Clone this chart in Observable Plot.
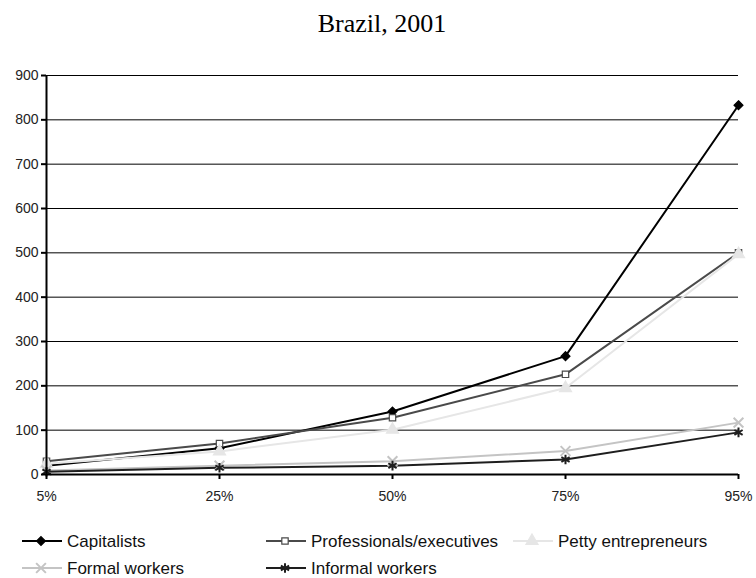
<!DOCTYPE html>
<html>
<head>
<meta charset="utf-8">
<script src="https://cdn.jsdelivr.net/npm/d3@7"></script>
<script src="https://cdn.jsdelivr.net/npm/@observablehq/plot@0.6"></script>
<style>
  html, body { margin: 0; padding: 0; background: #fff; }
  #wrap { width: 756px; height: 578px; position: relative; overflow: hidden; }
  #title { position: absolute; left: 0; top: 0; width: 756px; height: 50px; text-align: center;
           font-family: "Liberation Serif", "Times New Roman", serif; font-size: 26px; line-height: 48px;
           padding-left: 8px; box-sizing: border-box; color: #000; }
  #chart { position: absolute; left: 0; top: 50px; }
  #legend { position: absolute; left: 0; top: 514px; }
</style>
</head>
<body>
<div id="wrap">
  <div id="title">Brazil, 2001</div>
  <div id="chart"></div>
  <div id="legend"></div>
</div>
<script>
const percentiles = ["5%", "25%", "50%", "75%", "95%"];
const seriesNames = ["Capitalists", "Professionals/executives", "Petty entrepreneurs", "Formal workers", "Informal workers"];
const capitalists   = [20, 59, 142, 267, 833];
const professionals = [30, 70, 128, 226, 500];
const petty         = [24, 52, 101, 195, 497];
const formal        = [9, 20, 30, 53, 117];
const informal      = [6, 15, 20, 34, 95];
const yTicks = [0, 100, 200, 300, 400, 500, 600, 700, 800, 900];

const seriesValues = [capitalists, professionals, petty, formal, informal];
const styles = [
  {stroke: "#000000", symbol: "diamond2", fill: "#000000", mstroke: "#000000", r: 4},
  {stroke: "#4a4a4a", symbol: "square", fill: "#ffffff", mstroke: "#4a4a4a", r: 3.6},
  {stroke: "#e6e6e6", symbol: "triangle", fill: "#e6e6e6", mstroke: "#e6e6e6", r: 4.5},
  {stroke: "#c4c4c4", symbol: "times", fill: "none", mstroke: "#c4c4c4", r: 4.5},
  {stroke: "#1e1e1e", symbol: "asterisk", fill: "none", mstroke: "#1e1e1e", r: 4.5}
];

const rows = [];
seriesNames.forEach((name, i) => {
  percentiles.forEach((p, j) => rows.push({series: name, idx: i, pct: p, value: seriesValues[i][j]}));
});

const marks = [
  Plot.ruleY(yTicks.filter(d => d > 0), {stroke: "#000", strokeWidth: 1}),
];
seriesNames.forEach((name, i) => {
  const data = rows.filter(d => d.idx === i);
  marks.push(Plot.line(data, {x: "pct", y: "value", stroke: styles[i].stroke, strokeWidth: 2}));
});
seriesNames.forEach((name, i) => {
  const data = rows.filter(d => d.idx === i);
  const s = styles[i];
  marks.push(Plot.dot(data, {x: "pct", y: "value", symbol: () => s.symbol, r: s.r,
    fill: s.fill, stroke: s.mstroke, strokeWidth: s.symbol === "times" || s.symbol === "asterisk" ? 2 : 1.2}));
});
marks.push(Plot.ruleX([percentiles[0]], {stroke: "#000", strokeWidth: 2}));
marks.push(Plot.ruleY([0], {stroke: "#000", strokeWidth: 2}));
marks.push(Plot.axisY({ticks: yTicks, tickSize: 5, tickPadding: 3, stroke: "#000", strokeWidth: 2, fill: "#222", fontSize: 14, label: null}));
marks.push(Plot.axisX({tickSize: 5, tickPadding: 12, stroke: "#000", strokeWidth: 2, fill: "#222", fontSize: 14, label: null}));

const chart = Plot.plot({
  width: 756,
  height: 464,
  marginTop: 25,
  marginBottom: 40,
  marginLeft: 46,
  marginRight: 18,
  style: {fontFamily: "'Liberation Sans', Arial, sans-serif", fontSize: "14px", background: "#fff", overflow: "visible"},
  x: {type: "point", domain: percentiles, padding: 0},
  y: {domain: [0, 900]},
  marks
});
document.getElementById("chart").appendChild(chart);

// Legend
const legendPos = [[22, 27], [266, 27], [513, 27], [22, 54], [266, 54]];
const svg = d3.select("#legend").append("svg").attr("width", 756).attr("height", 64);
const symMap = {diamond2: d3.symbolDiamond2, square: d3.symbolSquare, triangle: d3.symbolTriangle, times: d3.symbolTimes, asterisk: d3.symbolAsterisk};
seriesNames.forEach((name, i) => {
  const [x, y] = legendPos[i];
  const s = styles[i];
  const g = svg.append("g").attr("transform", `translate(${x},${y})`);
  g.append("line").attr("x1", 0).attr("x2", 40).attr("y1", 0).attr("y2", 0)
    .attr("stroke", s.stroke).attr("stroke-width", 2);
  g.append("path").attr("transform", "translate(19,0)")
    .attr("d", d3.symbol(symMap[s.symbol], Math.PI * s.r * s.r)())
    .attr("fill", s.fill).attr("stroke", s.mstroke)
    .attr("stroke-width", s.symbol === "times" || s.symbol === "asterisk" ? 2 : 1.2);
  g.append("text").attr("x", 45).attr("y", 0).attr("dy", "0.35em")
    .attr("font-family", "'Liberation Sans', Arial, sans-serif")
    .attr("font-size", 17).attr("fill", "#111").text(name);
});
</script>
</body>
</html>
